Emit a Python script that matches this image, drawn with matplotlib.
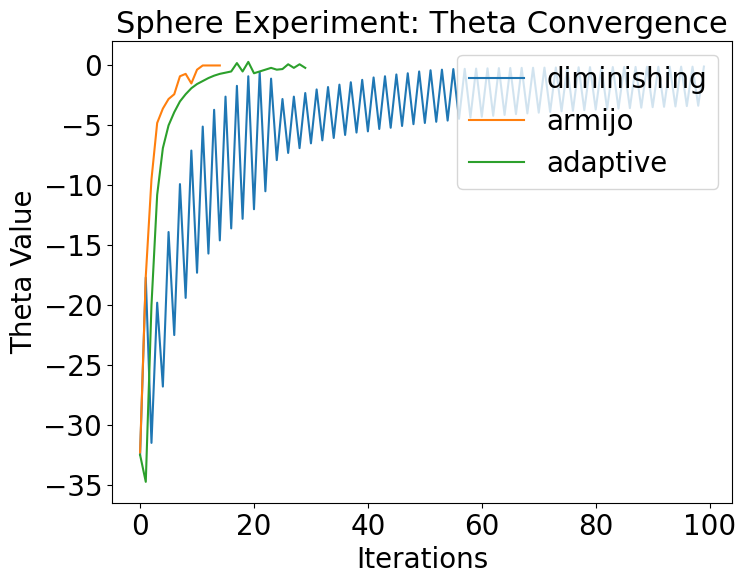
import numpy as np
import matplotlib.pyplot as plt

plt.rcParams['font.size'] = 20

#theta values per iteration
diminishing = [
    -32.5, -17.7, -31.5, -19.8, -26.8, -13.9, -22.5, -9.9, -19.4, -7.1,
    -17.3, -5.1, -15.7, -3.7, -14.6, -2.6, -13.6, -1.7, -12.8, -0.9,
    -12.0, -0.55, -10.5, -1.1, -7.9, -2.8, -7.3, -2.6, -6.9, -2.3,
    -6.5, -2.0, -6.25, -1.8, -6.05, -1.6, -5.8, -1.4, -5.6, -1.2,
    -5.5, -1.0, -5.3, -0.9, -5.2, -0.75, -5.05, -0.65, -4.9, -0.5,
    -4.8, -0.4, -4.7, -0.35, -4.6, -0.3, -4.45, -0.28, -4.35, -0.26,
    -4.28, -0.24, -4.2, -0.22, -4.13, -0.21, -4.06, -0.2, -4.0, -0.19,
    -3.94, -0.18, -3.88, -0.17, -3.83, -0.16, -3.78, -0.15, -3.73, -0.14,
    -3.68, -0.13, -3.64, -0.13, -3.6, -0.12, -3.56, -0.12, -3.52, -0.11,
    -3.48, -0.11, -3.45, -0.1, -3.42, -0.1, -3.39, -0.1, -3.36, -0.09,
]
armijo = [
    -32.3, -17.6, -9.5, -4.8, -3.6, -2.8, -2.4, -0.9, -0.7, -1.5,
    -0.35, 0.0, 0.0, 0.0, 0.0,
]
adaptive = [
    -32.5, -34.75, -20.0, -10.8, -6.9, -5.0, -3.9, -3.0, -2.4, -1.9,
    -1.55, -1.3, -1.05, -0.85, -0.7, -0.6, -0.5, 0.2, -0.5, 0.3,
    -0.65, -0.5, -0.35, -0.2, -0.35, -0.3, 0.1, -0.2, 0.1, -0.2,
]

fig = plt.figure(figsize=(7.41, 5.84), dpi=100)
ax = fig.add_axes([0.151, 0.139, 0.837, 0.791])
ax.plot(np.arange(len(diminishing)), diminishing, label="diminishing")
ax.plot(np.arange(len(armijo)), armijo, label="armijo")
ax.plot(np.arange(len(adaptive)), adaptive, label="adaptive")
ax.set_title("Sphere Experiment: Theta Convergence", fontsize=22)
ax.set_xlabel("Iterations")
ax.set_ylabel("Theta Value")
ax.legend(loc="upper right")
fig.savefig("out.png", dpi=100)
